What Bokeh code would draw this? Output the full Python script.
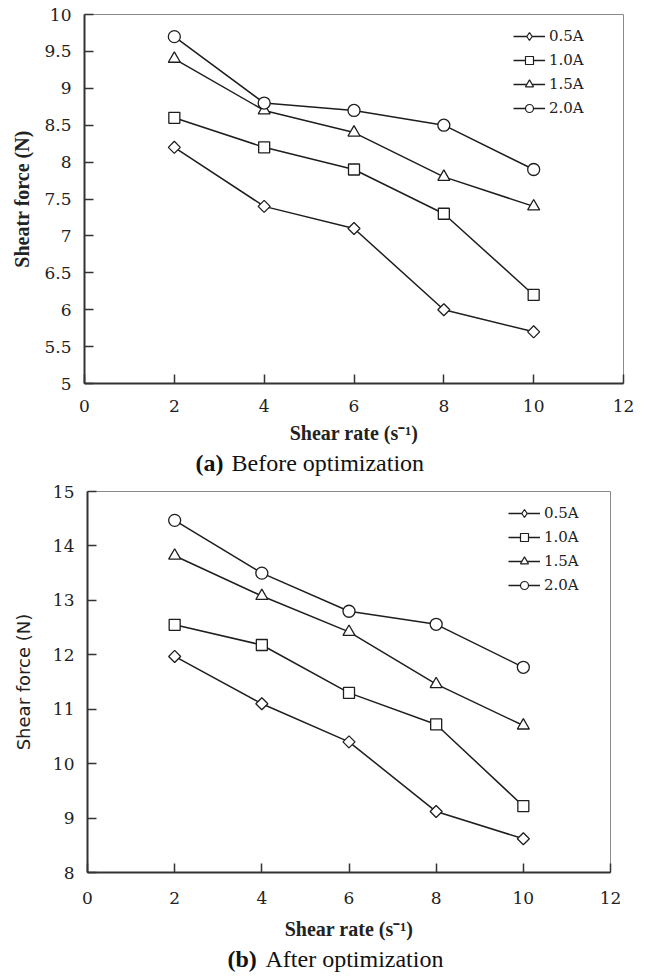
import math
from bokeh.plotting import figure
from bokeh.layouts import column
from bokeh.models import FixedTicker, Legend, LegendItem, Range1d
from bokeh.core.properties import value
from bokeh.embed import file_html
from bokeh.resources import INLINE

# ---------------- data ----------------
shear_rate = [2, 4, 6, 8, 10]
series_names = ["0.5A", "1.0A", "1.5A", "2.0A"]

before_05 = [8.2, 7.4, 7.1, 6.0, 5.7]
before_10 = [8.6, 8.2, 7.9, 7.3, 6.2]
before_15 = [9.4, 8.7, 8.4, 7.8, 7.4]
before_20 = [9.7, 8.8, 8.7, 8.5, 7.9]

after_05 = [11.97, 11.10, 10.40, 9.12, 8.62]
after_10 = [12.55, 12.18, 11.30, 10.72, 9.22]
after_15 = [13.82, 13.08, 12.42, 11.46, 10.70]
after_20 = [14.47, 13.50, 12.80, 12.56, 11.77]

x_ticks = [0, 2, 4, 6, 8, 10, 12]
y_ticks_a = [5, 5.5, 6, 6.5, 7, 7.5, 8, 8.5, 9, 9.5, 10]
y_tick_labels_a = ["5", "5.5", "6", "6.5", "7", "7.5", "8", "8.5", "9", "9.5", "10"]
y_ticks_b = [8, 9, 10, 11, 12, 13, 14, 15]
y_tick_labels_b = ["8", "9", "10", "11", "12", "13", "14", "15"]

caption_a_tag, caption_a_text = "(a)", "Before optimization"
caption_b_tag, caption_b_text = "(b)", "After optimization"

SERIF = "Liberation Serif"
TICK_FONT = "DejaVu Serif"
INK = "#1e1e1e"
TXT = "#222222"

# (marker, angle, size) for plot points
markers = [("square", math.pi / 4, 8.5), ("square", 0, 11), ("triangle", 0, 12), ("circle", 0, 12)]
# legend swatch markers (legend ignores marker angle, so the diamond gets its own swatch)
legend_markers = [("diamond", 12.5), ("square", 11), ("triangle", 12), ("circle", 12)]


def make_panel(height, borders, series, y_range, y_ticks, y_labels, y_title, y_title_font,
               y_title_style, y_title_size, x_std, x_title_std, y_std, y_title_std, legend_loc):
    left, right, top, bottom = borders
    p = figure(width=646, height=height, output_backend="svg", toolbar_location=None,
               x_range=Range1d(0, 12), y_range=Range1d(*y_range),
               min_border_left=left, min_border_right=right,
               min_border_top=top, min_border_bottom=bottom, frame_align=False,
               background_fill_color="white", border_fill_color="white")
    p.grid.visible = False
    p.outline_line_color = "#8a8a8a"
    p.outline_line_width = 1

    items = []
    for name, ys, (mk, ang, sz), (lmk, lsz) in zip(series_names, series, markers, legend_markers):
        ln = p.line(shear_rate, ys, line_color=INK, line_width=1.5)
        p.scatter(shear_rate, ys, marker=mk, angle=ang, size=sz,
                  fill_color="white", line_color=INK, line_width=1.3)
        # hidden copy used only to draw the legend swatch
        lg = p.scatter(shear_rate, ys, marker=lmk, size=lsz, visible=False,
                       fill_color="white", line_color=INK, line_width=1.2)
        items.append(LegendItem(label=name, renderers=[ln, lg]))

    leg = Legend(items=items, location=legend_loc, orientation="vertical",
                 glyph_width=32, glyph_height=20, label_height=20, spacing=4,
                 padding=0, margin=0, label_standoff=4, click_policy="none",
                 label_text_font=TICK_FONT, label_text_font_size="15px",
                 label_text_color=TXT,
                 border_line_color=None, background_fill_alpha=0)
    p.add_layout(leg)

    # x axis
    xa = p.xaxis[0]
    xa.ticker = FixedTicker(ticks=x_ticks)
    xa.minor_tick_line_color = None
    xa.major_tick_in = 9
    xa.major_tick_out = 0
    xa.major_tick_line_color = "#333333"
    xa.major_tick_line_width = 1.5
    xa.axis_line_color = "#333333"
    xa.axis_line_width = 2
    xa.major_label_text_font = TICK_FONT
    xa.major_label_text_font_size = "17px"
    xa.major_label_text_color = TXT
    xa.major_label_standoff = x_std
    xa.axis_label = "Shear rate (s\u207b\u00b9)"
    xa.axis_label_text_font = SERIF
    xa.axis_label_text_font_style = "bold"
    xa.axis_label_text_font_size = "20px"
    xa.axis_label_text_color = TXT
    xa.axis_label_standoff = x_title_std

    # y axis
    ya = p.yaxis[0]
    ya.ticker = FixedTicker(ticks=y_ticks)
    ya.major_label_overrides = {t: s for t, s in zip(y_ticks, y_labels)}
    ya.minor_tick_line_color = None
    ya.major_tick_in = 9
    ya.major_tick_out = 0
    ya.major_tick_line_color = "#333333"
    ya.major_tick_line_width = 1.5
    ya.axis_line_color = "#333333"
    ya.axis_line_width = 2
    ya.major_label_text_font = TICK_FONT
    ya.major_label_text_font_size = "17px"
    ya.major_label_text_color = TXT
    ya.major_label_standoff = y_std
    ya.axis_label = y_title
    ya.axis_label_text_font = y_title_font
    ya.axis_label_text_font_style = y_title_style
    ya.axis_label_text_font_size = y_title_size
    ya.axis_label_text_color = TXT
    ya.axis_label_standoff = y_title_std
    return p


def make_caption(height, tag, text, tag_x, text_x, mid_y):
    c = figure(width=646, height=height, output_backend="svg", toolbar_location=None,
               x_range=Range1d(0, 646), y_range=Range1d(0, height),
               min_border=0, min_border_left=0, min_border_right=0,
               min_border_top=0, min_border_bottom=0, frame_align=False,
               background_fill_color="white", border_fill_color="white")
    c.axis.visible = False
    c.grid.visible = False
    c.outline_line_color = None
    c.text(x=[tag_x], y=[mid_y], text=[tag], text_font=value(SERIF),
           text_font_style="bold", text_font_size=value("24px"), text_color="#111111",
           text_baseline="middle", text_align="left")
    c.text(x=[text_x], y=[mid_y], text=[text], text_font=value(SERIF),
           text_font_style="normal", text_font_size=value("24px"), text_color="#111111",
           text_baseline="middle", text_align="left")
    return c


# panel (a): page 0..449; frame left 84, right 623, top 14, bottom 383
p1 = make_panel(449, (84, 23, 14, 66),
                [before_05, before_10, before_15, before_20],
                (5, 10), y_ticks_a, y_tick_labels_a,
                "Sheatr force (N)", SERIF, "bold", "20px",
                x_std=16, x_title_std=7, y_std=13, y_title_std=8,
                legend_loc=(429, 265))
cap1 = make_caption(31, caption_a_tag, caption_a_text, 195, 231, 18)

# panel (b): page 480..945; frame left 87, right 610, top 491, bottom 872
p2 = make_panel(465, (87, 36, 11, 73),
                [after_05, after_10, after_15, after_20],
                (8, 15), y_ticks_b, y_tick_labels_b,
                "Shear force (N)", "DejaVu Sans", "normal", "18px",
                x_std=19, x_title_std=11, y_std=13, y_title_std=16,
                legend_loc=(421, 277))
cap2 = make_caption(31, caption_b_tag, caption_b_text, 227, 265, 18)

layout = column(p1, cap1, p2, cap2, spacing=0)
open("out.html", "w").write(file_html(layout, INLINE))
